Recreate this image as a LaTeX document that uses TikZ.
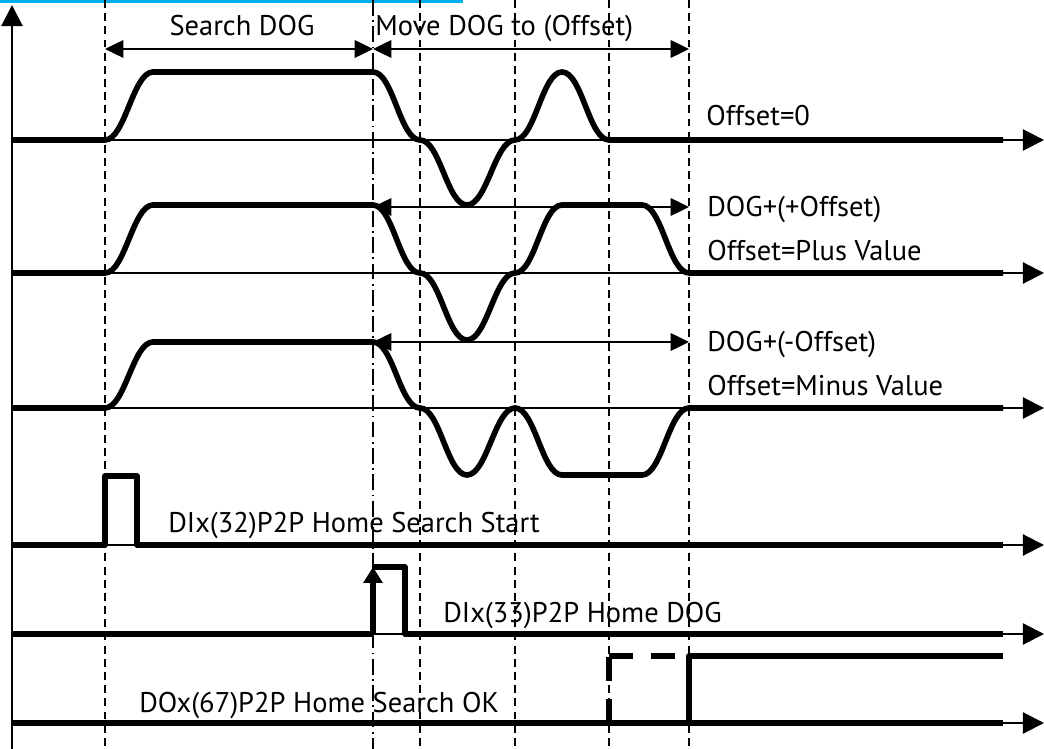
\documentclass[tikz,border=0pt]{standalone}
\usepackage{fontspec}
\setmainfont{PT Sans}
\usetikzlibrary{arrows.meta, positioning, calc}
\tikzset{
    signal/.style={line width=3.2pt, line join=round},
    axisline/.style={line width=1.2pt, -{Triangle[length=12pt,width=12pt]}},
    guide/.style={line width=0.9pt, dash pattern=on 4.5pt off 3pt},
    guidedot/.style={line width=0.9pt, dash pattern=on 9pt off 2.5pt on 1pt off 2.5pt},
    spanarrow/.style={line width=1.2pt, {Triangle[length=10.5pt,width=10pt]}-{Triangle[length=10.5pt,width=10pt]}},
    pending/.style={line width=3.2pt, dash pattern=on 13.5pt off 10.5pt},
    lbl/.style={font=\fontsize{16.2}{18}\selectfont, inner sep=0pt, anchor=base west},
    ease/.style={to path={.. controls +(20,0) and +(-20,0) .. (\tikztotarget)}}
}
\begin{document}
\begin{tikzpicture}[x=0.02cm, y=-0.02cm]
    \useasboundingbox (0,0) rectangle (1044,749);
    \fill[cyan] (0,0) rectangle (463,3);

    % time marks
    \coordinate (tA) at (105,0);
    \coordinate (tB) at (373,0);
    \coordinate (tC) at (420,0);
    \coordinate (tD) at (515,0);
    \coordinate (tE) at (609,0);
    \coordinate (tF) at (689,0);
    \coordinate (floor) at (0,749);

    % vertical guides
    \foreach \t in {tA,tC,tD,tE,tF}
        \draw[guide] (\t) -- (\t |- floor);
    \draw[guidedot] (tB) -- (tB |- floor);

    % axes
    \draw[axisline] (12,749) -- (12,5);
    \foreach \y in {140,273,408,545,634,723}
        \draw[axisline] (12,\y) -- (1044,\y);

    % spans on top
    \coordinate (spanrow) at (0,49);
    \draw[spanarrow] (tA |- spanrow) -- (tB |- spanrow);
    \draw[spanarrow] (tB |- spanrow) -- (tF |- spanrow);
    \node (search) [lbl, anchor=base] at (242,36) {Search DOG};
    \node (move) [lbl] at (375,36) {Move DOG to (Offset)};

    % offset = 0
    \draw[signal] (12,140) -- (105,140) to[ease] (153,72) -- (373,72) to[ease] (420,140)
        to[ease] (467,205) to[ease] (515,140) to[ease] (562,72) to[ease] (609,140) -- (1003,140);
    \node (zero) [lbl] at (706,126) {Offset=0};

    % offset = plus value
    \draw[signal] (12,273) -- (105,273) to[ease] (153,205) -- (373,205) to[ease] (420,273)
        to[ease] (467,340) to[ease] (515,273) to[ease] (562,205) -- (642,205) to[ease] (689,273) -- (1003,273);
    \coordinate (plusrow) at (0,207);
    \draw[spanarrow] (tB |- plusrow) -- (tF |- plusrow);
    \node (plusdog) [lbl] at (707,217) {DOG+(+Offset)};
    \node (plusval) [lbl] at (707,261) {Offset=Plus Value};

    % offset = minus value
    \draw[signal] (12,408) -- (105,408) to[ease] (153,342) -- (373,342) to[ease] (420,408)
        to[ease] (467,475) to[ease] (515,408) to[ease] (562,475) -- (642,475) to[ease] (689,408) -- (1003,408);
    \coordinate (minusrow) at (0,342);
    \draw[spanarrow] (tB |- minusrow) -- (tF |- minusrow);
    \node (minusdog) [lbl] at (707,352) {DOG+(-Offset)};
    \node (minusval) [lbl] at (707,396) {Offset=Minus Value};

    % start pulse
    \draw[signal] (12,545) -- (105,545) -- (105,476) -- (137,476) -- (137,545) -- (1003,545);
    \node (start) [lbl] at (168,532) {DIx(32)P2P Home Search Start};

    % dog pulse
    \draw[signal] (12,634) -- (373,634);
    \draw[signal, -{Triangle[length=9pt,width=10.5pt]}] (373,634) -- (373,567);
    \draw[signal] (373,567) -- (405,567) -- (405,634) -- (1003,634);
    \node (dog) [lbl] at (443,622) {DIx(33)P2P Home DOG};

    % search ok
    \draw[signal] (12,723) -- (1003,723);
    \draw[pending] (609,723) -- (609,656);
    \draw[pending] (609,656) -- (689,656);
    \draw[signal] (689,723) -- (689,656) -- (1003,656);
    \node (ok) [lbl] at (139,712) {DOx(67)P2P Home Search OK};
\end{tikzpicture}
\end{document}
